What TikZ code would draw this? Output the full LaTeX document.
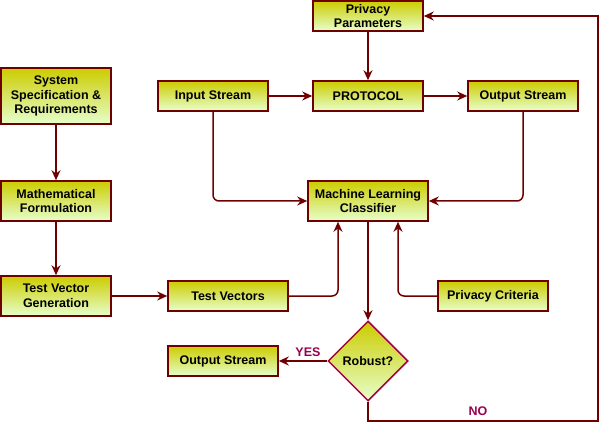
\documentclass[tikz,border=0pt]{standalone}
\usepackage{fontspec}
\setmainfont{Liberation Sans}
\usetikzlibrary{shapes.geometric,arrows.meta}
\definecolor{bordr}{HTML}{6F0000}
\definecolor{topc}{HTML}{CCCC00}
\definecolor{botc}{HTML}{E6FFCC}
\definecolor{dia}{HTML}{A50040}
\definecolor{lab}{HTML}{99004D}
\begin{document}
\begin{tikzpicture}[x=1pt,y=-1pt,
  box/.style={draw=bordr, line width=1.5pt, top color=topc, bottom color=botc,
    inner sep=0pt, align=center, font=\bfseries\fontsize{12.5}{14.5}\selectfont},
  conn/.style={draw=bordr, line width=1.5pt, -{Stealth[length=10pt,width=9pt]}, rounded corners=6pt},
  lbl/.style={text=lab, font=\bfseries\fontsize{12.5}{14}\selectfont}]
\useasboundingbox (0,0) rectangle (607,430);
\node[box, minimum width=110pt, minimum height=30pt] (pp) at (368,16) {Privacy\\Parameters};
\node[box, minimum width=110pt, minimum height=30pt] (in) at (213,96) {Input Stream};
\node[box, minimum width=110pt, minimum height=30pt] (proto) at (368,96) {PROTOCOL};
\node[box, minimum width=110pt, minimum height=30pt] (out1) at (523,96) {Output Stream};
\node[box, minimum width=110pt, minimum height=56pt] (sys) at (56,96) {System\\Specification \&\\Requirements};
\node[box, minimum width=110pt, minimum height=40pt] (math) at (56,201) {Mathematical\\Formulation};
\node[box, minimum width=120pt, minimum height=40pt] (ml) at (368,201) {Machine Learning\\Classifier};
\node[box, minimum width=110pt, minimum height=40pt] (tvg) at (56,296) {Test Vector\\Generation};
\node[box, minimum width=120pt, minimum height=30pt] (tv) at (228,296) {Test Vectors};
\node[box, minimum width=110pt, minimum height=30pt] (pc) at (493,296) {Privacy Criteria};
\node[box, draw=dia, diamond, minimum width=80pt, minimum height=80pt] (rob) at (368,361) {Robust?};
\node[box, minimum width=110pt, minimum height=30pt] (out2) at (223,361) {Output Stream};
\coordinate (c1) at (598,421);
\draw[conn] (pp) -- (proto);
\draw[conn] (in) -- (proto);
\draw[conn] (proto) -- (out1);
\draw[conn] (in.south) |- (ml.west);
\draw[conn] (out1.south) |- (ml.east);
\draw[conn] (sys) -- (math);
\draw[conn] (math) -- (tvg);
\draw[conn] (tvg) -- (tv);
\draw[conn] (tv.east) -| ([xshift=-30pt]ml.south);
\draw[conn] (pc.west) -| ([xshift=30pt]ml.south);
\draw[conn] (ml) -- (rob);
\draw[conn] (rob.west) -- (out2.east);
\draw[conn, sharp corners] (rob.south) |- (c1) |- (pp.east);
\node[lbl] (yes) at (308,352) {YES};
\node[lbl] (no) at (478,411) {NO};
\end{tikzpicture}
\end{document}
